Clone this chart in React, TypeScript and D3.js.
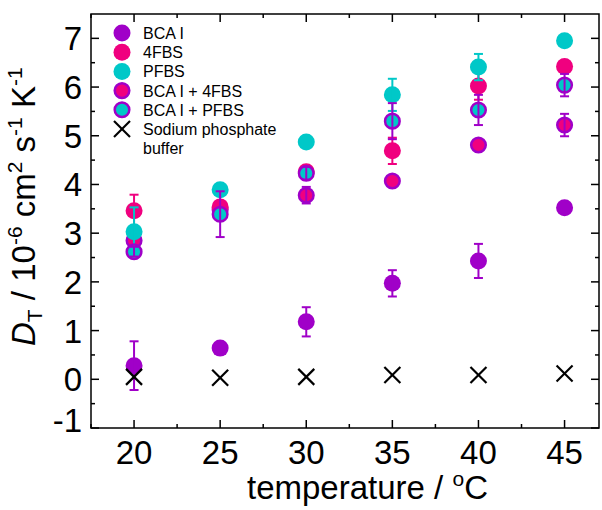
import React, { useEffect, useRef } from 'react';
import * as d3 from 'd3';

// temperatures (x) and D_T values
const temps = [20, 25, 30, 35, 40, 45];
const bcaI = [0.28, 0.64, 1.18, 1.97, 2.43, 3.52];
const bcaIErr = [0.5, 0, 0.3, 0.27, 0.35, 0];
const fbs4 = [3.46, 3.54, 4.26, 4.69, 6.02, 6.42];
const fbs4Err = [0.33, 0.1, 0, 0.27, 0.28, 0];
const pfbs = [3.03, 3.89, 4.87, 5.84, 6.41, 6.95];
const pfbsErr = [0.5, 0, 0, 0.33, 0.27, 0];
const bca4fbs = [2.85, 3.48, 3.78, 4.07, 4.81, 5.22];
const bca4fbsErr = [0.12, 0.1, 0.17, 0, 0, 0.23];
const bcaPfbs = [2.62, 3.39, 4.23, 5.3, 5.53, 6.04];
const bcaPfbsErr = [0.1, 0.47, 0.13, 0.37, 0.31, 0.23];
const buffer = [0.05, 0.03, 0.05, 0.09, 0.09, 0.12];

const xTicks = [20, 25, 30, 35, 40, 45];
const yTicks = [-1, 0, 1, 2, 3, 4, 5, 6, 7];

const PURPLE = '#a000c8';
const PINK = '#f0007f';
const CYAN = '#00c8c8';

const seriesList = [
  { name: 'BCA I', values: bcaI, err: bcaIErr, fill: PURPLE, stroke: 'none', errColor: PURPLE },
  { name: '4FBS', values: fbs4, err: fbs4Err, fill: PINK, stroke: 'none', errColor: PINK },
  { name: 'PFBS', values: pfbs, err: pfbsErr, fill: CYAN, stroke: 'none', errColor: CYAN },
  { name: 'BCA I + 4FBS', values: bca4fbs, err: bca4fbsErr, fill: PINK, stroke: PURPLE, errColor: PURPLE },
  { name: 'BCA I + PFBS', values: bcaPfbs, err: bcaPfbsErr, fill: CYAN, stroke: PURPLE, errColor: PURPLE },
];
// plotting order (BCA I + 4FBS sits underneath the others)
const drawOrder = [3, 0, 1, 2, 4];

const FONT = '"Liberation Sans", Arial, sans-serif';

const App = () => {
  const ref = useRef<SVGSVGElement | null>(null);

  useEffect(() => {
    if (!ref.current) return;
    const svg = d3.select(ref.current);
    svg.selectAll('*').remove();

    const left = 91, right = 599, top = 14, bottom = 428;
    const x = d3.scaleLinear().domain([17.5, 47]).range([left, right]);
    const y = d3.scaleLinear().domain([-1, 7.5]).range([bottom, top]);
    const r = 8.5;

    // frame
    svg.append('rect')
      .attr('x', left).attr('y', top)
      .attr('width', right - left).attr('height', bottom - top)
      .attr('fill', 'none').attr('stroke', '#000').attr('stroke-width', 1.5);

    // ticks (inward, on all four sides)
    const xMinor = d3.range(17.5, 47.01, 2.5).filter(v => !xTicks.includes(v));
    const yMinor = d3.range(-0.5, 7.5, 1);
    const tick = svg.append('g').attr('stroke', '#000').attr('stroke-width', 1.5);
    xTicks.forEach(v => {
      tick.append('line').attr('x1', x(v)).attr('x2', x(v)).attr('y1', bottom).attr('y2', bottom - 8);
      tick.append('line').attr('x1', x(v)).attr('x2', x(v)).attr('y1', top).attr('y2', top + 8);
    });
    xMinor.forEach(v => {
      tick.append('line').attr('x1', x(v)).attr('x2', x(v)).attr('y1', bottom).attr('y2', bottom - 4);
      tick.append('line').attr('x1', x(v)).attr('x2', x(v)).attr('y1', top).attr('y2', top + 4);
    });
    yTicks.forEach(v => {
      tick.append('line').attr('x1', left).attr('x2', left + 8).attr('y1', y(v)).attr('y2', y(v));
      tick.append('line').attr('x1', right).attr('x2', right - 8).attr('y1', y(v)).attr('y2', y(v));
    });
    yMinor.forEach(v => {
      tick.append('line').attr('x1', left).attr('x2', left + 4).attr('y1', y(v)).attr('y2', y(v));
      tick.append('line').attr('x1', right).attr('x2', right - 4).attr('y1', y(v)).attr('y2', y(v));
    });

    // tick labels
    svg.append('g').selectAll('text').data(xTicks).join('text')
      .attr('x', d => x(d)).attr('y', 464)
      .attr('text-anchor', 'middle')
      .style('font-family', FONT).style('font-size', '33px')
      .text(d => d);
    svg.append('g').selectAll('text').data(yTicks).join('text')
      .attr('x', 82).attr('y', d => y(d) + 12 - (d === -1 ? 8 : 0))
      .attr('text-anchor', 'end')
      .style('font-family', FONT).style('font-size', '33px')
      .text(d => d);

    // axis titles
    const xt = svg.append('text')
      .attr('x', 247).attr('y', 499)
      .style('font-family', FONT).style('font-size', '33px');
    xt.append('tspan').text('temperature / ');
    xt.append('tspan').attr('dy', -13).style('font-size', '21px').text('o');
    xt.append('tspan').attr('dy', 13).text('C');

    const yt = svg.append('text')
      .attr('transform', 'translate(35,346) rotate(-90)')
      .style('font-family', FONT).style('font-size', '33px');
    yt.append('tspan').style('font-style', 'italic').text('D');
    yt.append('tspan').attr('dy', 7).style('font-size', '21px').text('T');
    yt.append('tspan').attr('dy', -7).text(' / 10');
    yt.append('tspan').attr('dy', -13).style('font-size', '21px').text('-6');
    yt.append('tspan').attr('dy', 13).text(' cm');
    yt.append('tspan').attr('dy', -13).style('font-size', '21px').text('2');
    yt.append('tspan').attr('dy', 13).text(' s');
    yt.append('tspan').attr('dy', -13).style('font-size', '21px').text('-1');
    yt.append('tspan').attr('dy', 13).text(' K');
    yt.append('tspan').attr('dy', -13).style('font-size', '21px').text('-1');

    // data series
    drawOrder.forEach(k => {
      const s = seriesList[k];
      const g = svg.append('g');
      const pts = temps.map((t, i) => ({ t, v: s.values[i], e: s.err[i] }));
      g.selectAll('circle').data(pts).join('circle')
        .attr('cx', d => x(d.t)).attr('cy', d => y(d.v))
        .attr('r', s.stroke === 'none' ? r : r - 1.2)
        .attr('fill', s.fill)
        .attr('stroke', s.stroke)
        .attr('stroke-width', 2.5);
      const eb = g.append('g').attr('stroke', s.errColor).attr('stroke-width', 2);
      pts.filter(d => d.e > 0).forEach(d => {
        const cx = x(d.t);
        eb.append('line').attr('x1', cx).attr('x2', cx).attr('y1', y(d.v - d.e)).attr('y2', y(d.v + d.e));
        eb.append('line').attr('x1', cx - 4.5).attr('x2', cx + 4.5).attr('y1', y(d.v - d.e)).attr('y2', y(d.v - d.e));
        eb.append('line').attr('x1', cx - 4.5).attr('x2', cx + 4.5).attr('y1', y(d.v + d.e)).attr('y2', y(d.v + d.e));
      });
    });

    // buffer crosses
    const cross = svg.append('g').attr('stroke', '#000').attr('stroke-width', 2.2);
    temps.forEach((t, i) => {
      const cx = x(t), cy = y(buffer[i]);
      cross.append('line').attr('x1', cx - 8).attr('x2', cx + 8).attr('y1', cy - 8).attr('y2', cy + 8);
      cross.append('line').attr('x1', cx - 8).attr('x2', cx + 8).attr('y1', cy + 8).attr('y2', cy - 8);
    });

    // legend
    const lx = 122, ly0 = 33, ldy = 19.2;
    const leg = svg.append('g');
    seriesList.forEach((s, i) => {
      const cy = ly0 + i * ldy;
      leg.append('circle')
        .attr('cx', lx).attr('cy', cy)
        .attr('r', s.stroke === 'none' ? r : r - 1.2)
        .attr('fill', s.fill).attr('stroke', s.stroke).attr('stroke-width', 2.5);
      leg.append('text')
        .attr('x', 143).attr('y', cy + 6)
        .style('font-family', FONT).style('font-size', '16px')
        .text(s.name);
    });
    const cy6 = ly0 + 5 * ldy;
    leg.append('line').attr('x1', lx - 8).attr('x2', lx + 8).attr('y1', cy6 - 8).attr('y2', cy6 + 8)
      .attr('stroke', '#000').attr('stroke-width', 2.2);
    leg.append('line').attr('x1', lx - 8).attr('x2', lx + 8).attr('y1', cy6 + 8).attr('y2', cy6 - 8)
      .attr('stroke', '#000').attr('stroke-width', 2.2);
    leg.append('text').attr('x', 143).attr('y', cy6 + 6)
      .style('font-family', FONT).style('font-size', '16px')
      .text('Sodium phosphate');
    leg.append('text').attr('x', 143).attr('y', cy6 + ldy + 6)
      .style('font-family', FONT).style('font-size', '16px')
      .text('buffer');
  }, []);

  return (
    <svg
      ref={ref}
      width={602}
      height={510}
      style={{ position: 'absolute', left: 0, top: 0, background: '#fff' }}
    />
  );
};

export default App;
